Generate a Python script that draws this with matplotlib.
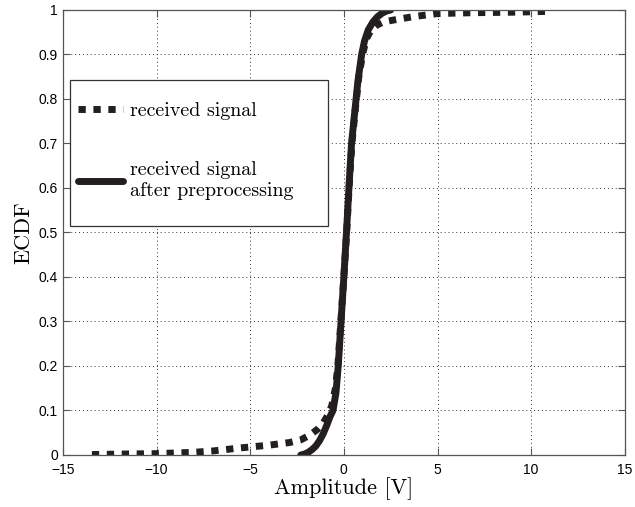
import numpy as np
import matplotlib
matplotlib.use("Agg")
import matplotlib.pyplot as plt
from matplotlib.patches import Rectangle

# ECDF punkte
raw_x = [-13.45, -12.0, -10.0, -8.0, -7.0, -5.5, -4.0, -2.9, -2.3, -1.8, -1.4,
         -1.1, -0.85, -0.65, -0.45, -0.32, -0.16, 0.0, 0.15, 0.28, 0.43, 0.62,
         0.8, 1.0, 1.2, 1.45, 1.76, 2.1, 2.6, 3.0, 3.7, 5.0, 7.0, 9.0, 11.0]
raw_y = [0.001, 0.002, 0.003, 0.006, 0.009, 0.016, 0.022, 0.028, 0.034, 0.045, 0.058,
         0.072, 0.09, 0.11, 0.15, 0.2, 0.3, 0.4, 0.5, 0.6, 0.7, 0.78,
         0.85, 0.9, 0.935, 0.955, 0.966, 0.973, 0.977, 0.98, 0.985, 0.992, 0.994, 0.995, 0.997]

pre_x = [-2.3, -2.1, -1.9, -1.7, -1.5, -1.3, -1.1, -0.9, -0.75, -0.58, -0.42,
         -0.3, -0.15, 0.0, 0.14, 0.27, 0.41, 0.58, 0.75, 0.95, 1.1, 1.3,
         1.55, 1.8, 2.05, 2.3, 2.5]
pre_y = [0.0, 0.002, 0.006, 0.012, 0.02, 0.032, 0.048, 0.068, 0.085, 0.1, 0.14,
         0.2, 0.3, 0.4, 0.5, 0.6, 0.7, 0.77, 0.84, 0.9, 0.93, 0.955,
         0.973, 0.985, 0.993, 0.998, 1.0]

x_ticks = [-15, -10, -5, 0, 5, 10, 15]
y_ticks = [0, 0.1, 0.2, 0.3, 0.4, 0.5, 0.6, 0.7, 0.8, 0.9, 1]
y_tick_labels = ['0', '0.1', '0.2', '0.3', '0.4', '0.5', '0.6', '0.7', '0.8', '0.9', '1']
labels = ['received signal', 'received signal\nafter preprocessing']

ink = '#231f20'
serif = ['cmr10', 'DejaVu Serif']

fig = plt.figure(figsize=(6.35, 5.07), dpi=100)
ax = fig.add_axes([0.099, 0.1026, 0.885, 0.8777])

ax.plot(raw_x, raw_y, color=ink, lw=5, linestyle=(0, (1.05, 1.1)),
        dash_capstyle='butt', label=labels[0])
ax.plot(pre_x, pre_y, color=ink, lw=5, solid_capstyle='round', label=labels[1])

ax.set_xlim(-15, 15)
ax.set_ylim(0, 1)
ax.set_xticks(x_ticks)
ax.set_xticklabels([('\u2212' if v < 0 else '') + str(abs(v)) for v in x_ticks])
ax.set_yticks(y_ticks)
ax.set_yticklabels(y_tick_labels)
ax.tick_params(direction='in', top=True, right=True, length=5, width=0.8,
               colors='#555555', labelcolor='black', labelsize=10)
ax.tick_params(axis='x', pad=6)
for lab in ax.get_xticklabels() + ax.get_yticklabels():
    lab.set_fontfamily('Liberation Sans')
for s in ax.spines.values():
    s.set_color('#555555')
    s.set_linewidth(0.9)
ax.grid(True, linestyle=(0, (1, 3)), color='#333333', linewidth=0.7)

ax.set_xlabel('Amplitude [V]', family=serif, fontsize=16, labelpad=0)
ax.set_ylabel('ECDF', family=serif, fontsize=16, labelpad=4)

# legendenrahmen wie in matlab, breiter als der inhalt
ax.add_patch(Rectangle((0.0125, 0.515), 0.459, 0.328, transform=ax.transAxes,
                       facecolor='white', edgecolor='#333333', linewidth=0.9,
                       zorder=4))
leg = ax.legend(loc='upper left', bbox_to_anchor=(0.0267, 0.7925),
                prop={'family': serif, 'size': 14.4}, handlelength=2.25,
                labelspacing=2.05, borderpad=0, handletextpad=0.35,
                frameon=False, borderaxespad=0)
leg.set_zorder(5)

fig.savefig('out.png', dpi=100)
